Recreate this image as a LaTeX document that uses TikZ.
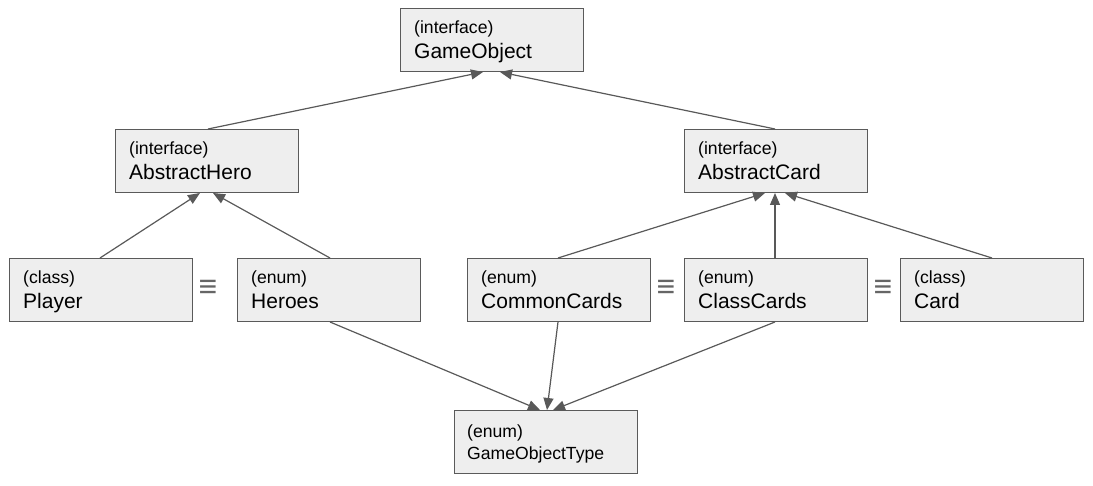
\documentclass[tikz,border=0pt]{standalone}
\usepackage{fontspec}
\setmainfont{Liberation Sans}
\usetikzlibrary{arrows.meta,calc}
\definecolor{boxfill}{HTML}{EEEEEE}
\definecolor{boxline}{HTML}{5A5A5A}
\definecolor{arrowc}{HTML}{595959}
\definecolor{equivc}{HTML}{666666}
\tikzset{
  umlbox/.style={draw=boxline, line width=1pt, fill=boxfill, minimum width=183pt, minimum height=63pt, anchor=north west, inner sep=0pt},
  smalltxt/.style={font=\fontsize{17.6}{20}\selectfont, anchor=base west, inner sep=0pt},
  bigtxt/.style={font=\fontsize{21}{24}\selectfont, anchor=base west, inner sep=0pt},
  equiv/.style={font=\fontsize{32}{34}\selectfont, text=equivc, inner sep=0pt},
  conn/.style={draw=arrowc, line width=1.2pt, -{Triangle[length=12pt,width=10pt]}},
}
\newcommand{\umlnode}[5]{%
  \node[umlbox] (#1) at (#2,#3) {};
  \node[smalltxt] (#1-s) at ($(#1.north west)+(14,25.5)$) {#4};
  \node[bigtxt] (#1-b) at ($(#1.north west)+(14,51)$) {#5};
}
\begin{document}
\begin{tikzpicture}[x=1pt,y=-1pt]
\useasboundingbox (0,0) rectangle (1093,486);
\umlnode{go}{400}{8}{(interface)}{GameObject}
\umlnode{ah}{115}{129}{(interface)}{AbstractHero}
\umlnode{ac}{684}{129}{(interface)}{AbstractCard}
\umlnode{pl}{9}{258}{(class)}{Player}
\umlnode{he}{237}{258}{(enum)}{Heroes}
\umlnode{cc}{467}{258}{(enum)}{CommonCards}
\umlnode{cl}{684}{258}{(enum)}{ClassCards}
\umlnode{ca}{900}{258}{(class)}{Card}
% GameObjectType box
\node[umlbox] (got) at (454,410) {};
\node[smalltxt] (got-s) at ($(got.north west)+(13,27)$) {(enum)};
\node[smalltxt] (got-b) at ($(got.north west)+(13,49.5)$) {GameObjectType};
% equivalence signs
\node[equiv] (e1) at (208,288.5) {≡};
\node[equiv] (e2) at (666,288.5) {≡};
\node[equiv] (e3) at (883,288.5) {≡};
% connectors
\draw[conn] ($(ah.north west)+(93,0)$) -- ($(go.south west)+(83,0)$);
\draw[conn] ($(ac.north west)+(91,0)$) -- ($(go.south west)+(100,0)$);
\draw[conn] ($(pl.north west)+(91,0)$) -- ($(ah.south west)+(85,0)$);
\draw[conn] ($(he.north west)+(93,0)$) -- ($(ah.south west)+(98,0)$);
\draw[conn] ($(cc.north west)+(91,0)$) -- ($(ac.south west)+(81,0)$);
\draw[conn] ($(cl.north west)+(91,0)$) -- ($(ac.south west)+(91,0)$);
\draw[conn] ($(ca.north west)+(92,0)$) -- ($(ac.south west)+(101,0)$);
\draw[conn] ($(he.south west)+(93,0)$) -- ($(got.north west)+(86,0)$);
\draw[conn] ($(cc.south west)+(91,0)$) -- ($(got.north west)+(93,0)$);
\draw[conn] ($(cl.south west)+(91,0)$) -- ($(got.north west)+(99,0)$);
\end{tikzpicture}
\end{document}
